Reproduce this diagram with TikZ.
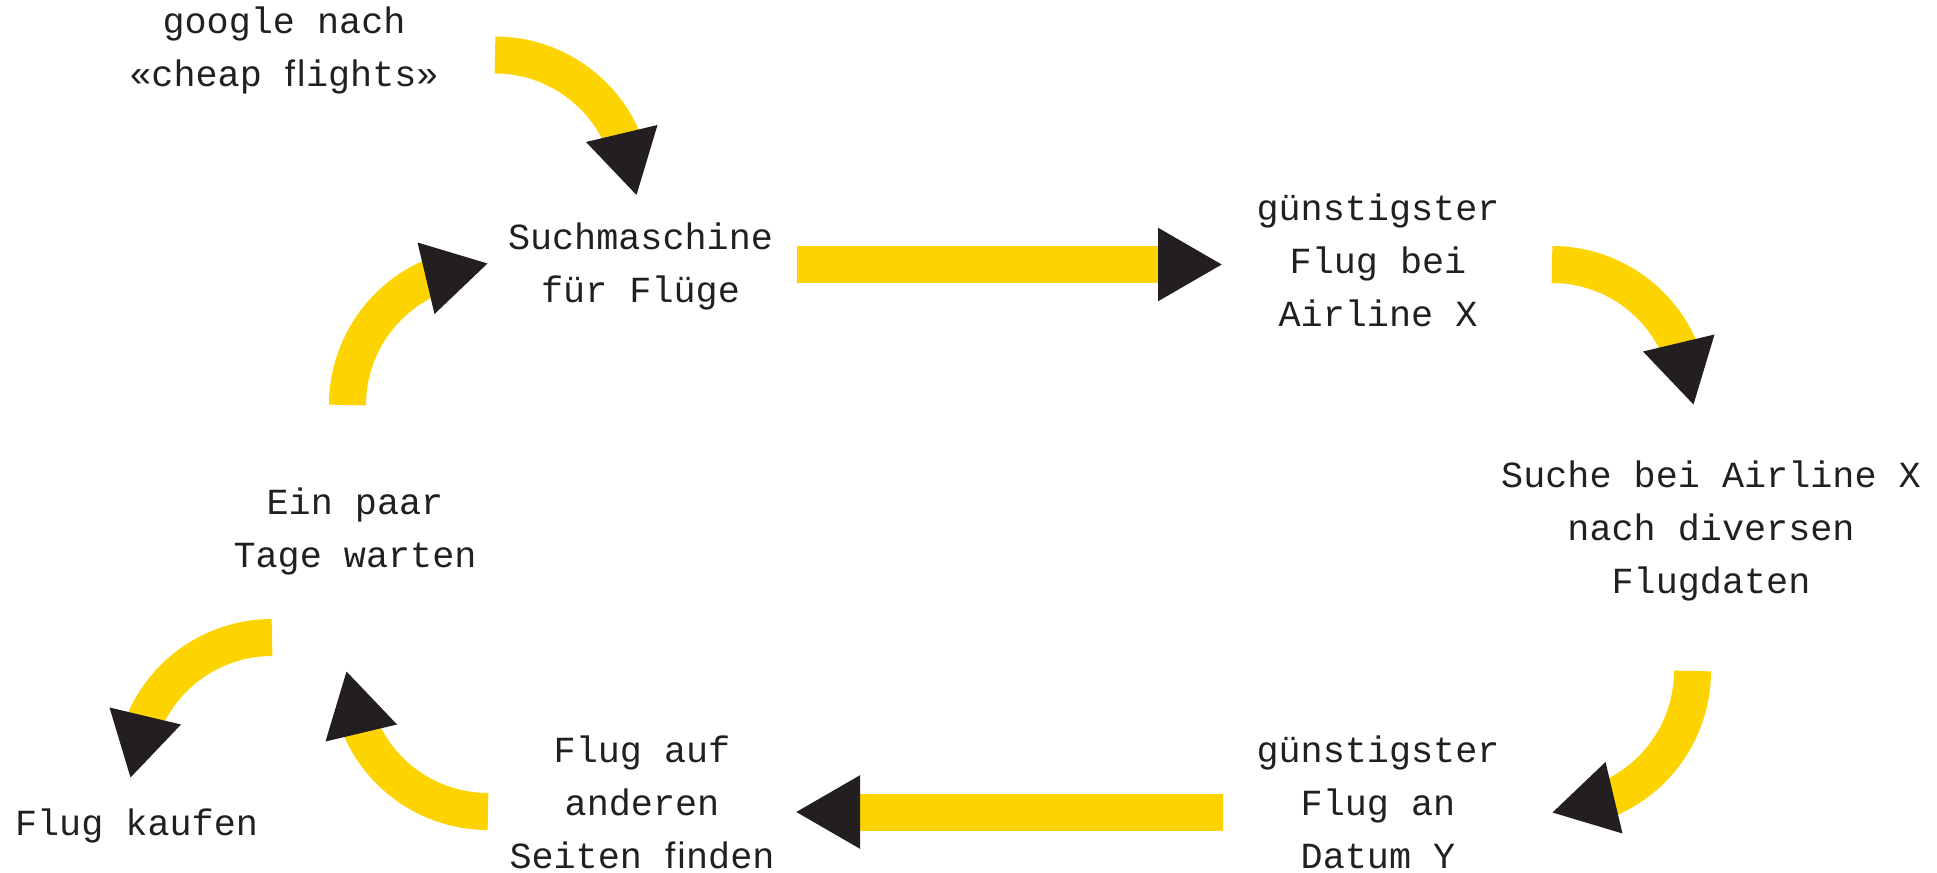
\documentclass[tikz,border=0pt]{standalone}
\usepackage{fontspec}
\newfontfamily\labelfont{Liberation Mono}
\definecolor{bandyellow}{HTML}{FDD300}
\definecolor{tipblack}{HTML}{231F20}
\newcommand\stacklines[1]{\vtop{\halign{\hfil##\hfil\cr#1\crcr}}}
\begin{document}
\begin{tikzpicture}[x=0.75pt,y=0.75pt,
  lbl/.style={inner sep=0pt, anchor=base, text=tipblack,
    font=\labelfont\fontsize{27.6pt}{39.75pt}\selectfont},
  yband/.style={draw=bandyellow, line width=27.75pt, line cap=butt},
  tipfill/.style={fill=tipblack, draw=none},
  carrow/.pic={
    \draw[yband] (0,0) arc[start angle=90, end angle=20, radius=139];
    \fill[tipfill] (91,-87) -- (162.5,-70) -- (141.5,-140) -- cycle;
  }]
\useasboundingbox (0,0) rectangle (1937,-873);

% labels
\node[lbl] (google)  at (284,-34)    {\stacklines{google nach\cr«cheap ﬂights»}};
\node[lbl] (search)  at (640.5,-250) {\stacklines{Suchmaschine\cr für Flüge}};
\node[lbl] (cheapA)  at (1378,-221)  {\stacklines{günstigster\cr Flug bei\cr Airline X}};
\node[lbl] (airline) at (1711,-487)  {\stacklines{Suche bei Airline X\cr nach diversen\cr Flugdaten}};
\node[lbl] (cheapY)  at (1378,-762)  {\stacklines{günstigster\cr Flug an\cr Datum Y}};
\node[lbl] (other)   at (642,-762)   {\stacklines{Flug auf\cr anderen\cr Seiten ﬁnden}};
\node[lbl] (buy)     at (136.5,-835) {Flug kaufen};
\node[lbl] (wait)    at (355,-514)   {\stacklines{Ein paar\cr Tage warten}};

% curved arrows
\coordinate (sA) at (495,-55);
\coordinate (sC) at (1552,-264.5);
\coordinate (sD) at (1692.5,-671);
\coordinate (sF) at (488,-811.5);
\coordinate (sG) at (347.5,-405);
\coordinate (sH) at (272,-637.5);
\pic at (sA) {carrow};
\pic at (sC) {carrow};
\pic[rotate=-90] at (sD) {carrow};
\pic[rotate=180] at (sF) {carrow};
\pic[rotate=90] at (sG) {carrow};
\pic[xscale=-1] at (sH) {carrow};

% straight arrows
\coordinate (bS) at (797,-264.5);
\coordinate (bE) at (1165,-264.5);
\draw[yband] (bS) -- (bE);
\fill[tipfill] (1158,-227.7) -- (1158,-301.3) -- (1221.7,-264.5) -- cycle;

\coordinate (eS) at (1223,-812);
\coordinate (eE) at (853,-812);
\draw[yband] (eS) -- (eE);
\fill[tipfill] (860,-775.2) -- (860,-848.8) -- (796.3,-812) -- cycle;
\end{tikzpicture}
\end{document}
